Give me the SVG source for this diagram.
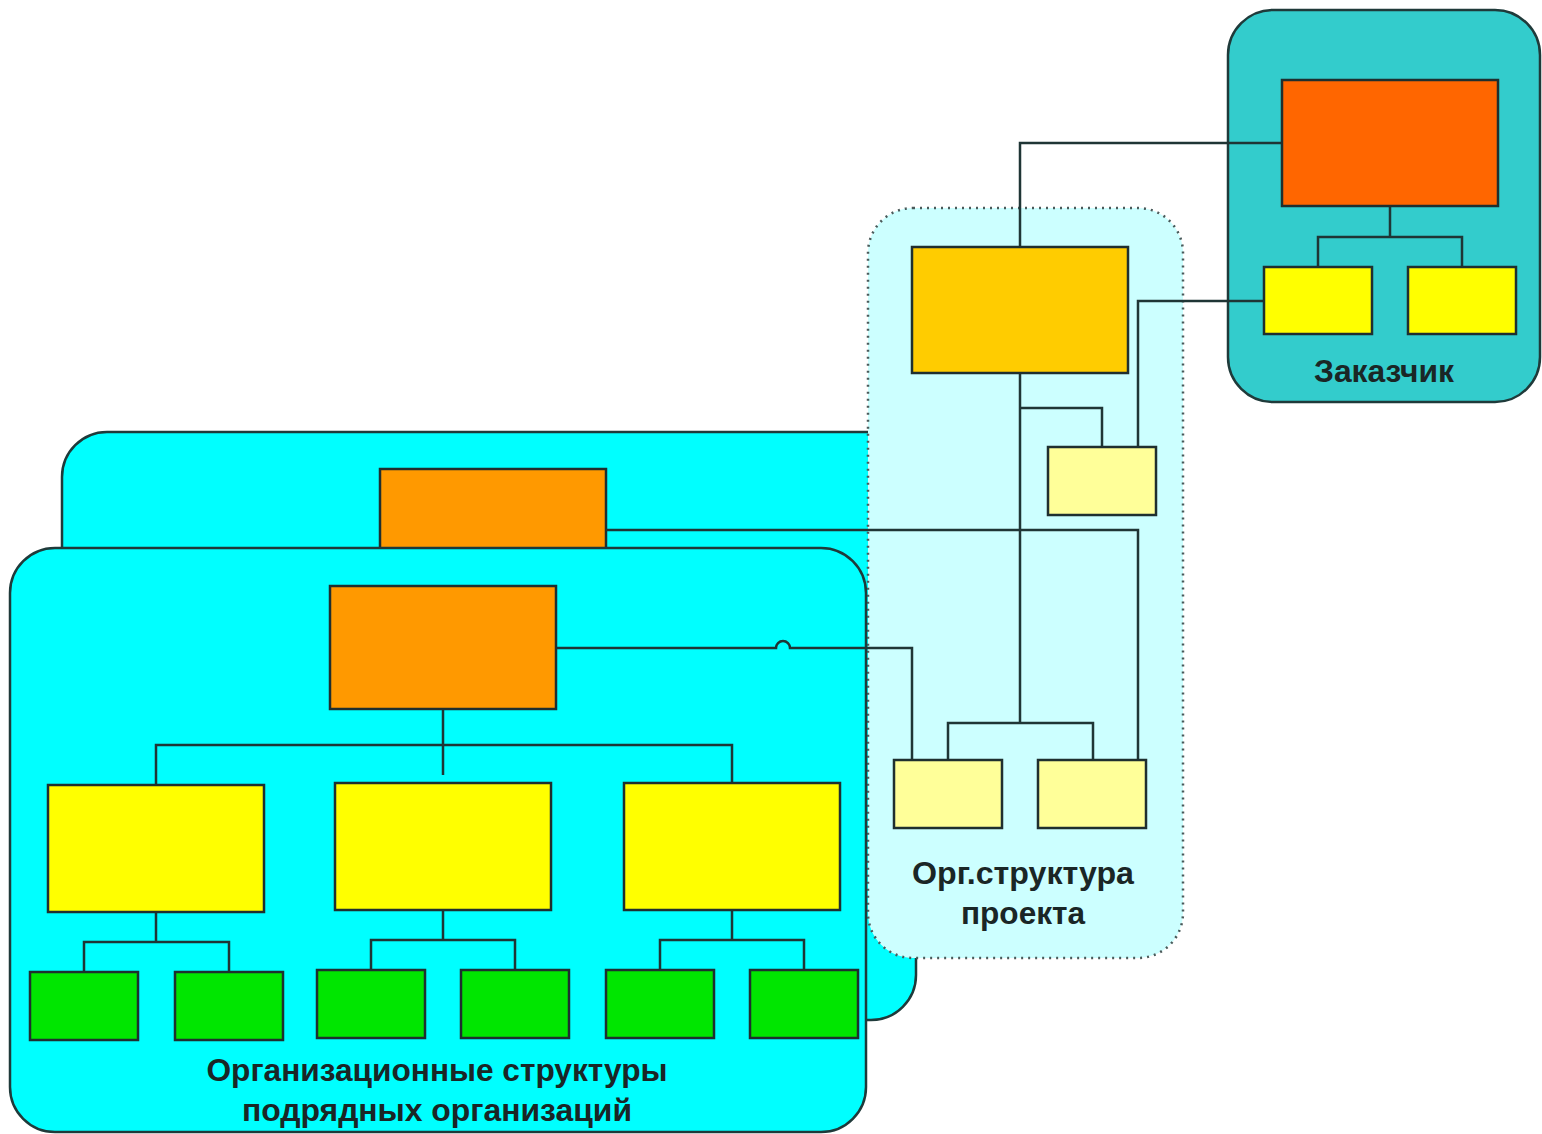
<svg xmlns="http://www.w3.org/2000/svg" width="1542" height="1134" viewBox="0 0 1542 1134">
<style>
.box{stroke:#1f2f2f;stroke-width:2.5}
.panel{stroke:#1f3a3a;stroke-width:2.5}
.ln{fill:none;stroke:#1f3535;stroke-width:2.5}
.lbl{font-family:"Liberation Sans",Arial,sans-serif;font-weight:bold;font-size:31px;fill:#1a2626;text-anchor:middle}
</style>
<rect width="1542" height="1134" fill="#ffffff"/>
<g id="panel-back">
<rect class="panel" x="62" y="432" width="854" height="588" rx="45" fill="#00ffff"/>
<rect id="back-top" class="box" x="380" y="469" width="226" height="100" fill="#ff9900"/>
</g>
<g id="panel-project">
<rect x="868" y="208" width="315" height="750" rx="45" fill="#ccffff" stroke="#4a5a5a" stroke-width="2.5" stroke-dasharray="2,5"/>
</g>
<g id="panel-front">
<rect class="panel" x="10" y="548" width="856" height="584" rx="45" fill="#00ffff"/>
</g>
<g id="panel-customer">
<rect class="panel" x="1228" y="10" width="312" height="392" rx="45" fill="#33cccc"/>
</g>
<g id="connectors">
<path class="ln" d="M1390,206 V237 M1318,267 V237 H1462 V267"/>
<path class="ln" d="M1282,143 H1020 V247"/>
<path class="ln" d="M1264,301 H1138 V447"/>
<path class="ln" d="M1020,373 V723 M1020,408 H1102 V447"/>
<path class="ln" d="M948,760 V723 H1093 V760"/>
<path class="ln" d="M606,530 H1138 V760"/>
<path class="ln" d="M556,648 H776 A7,7 0 0 1 790,648 H912 V760"/>
<path class="ln" d="M443,709 V775 M156,785 V745 H732 V783"/>
<path class="ln" d="M156,912 V942 M84,972 V942 H229 V972"/>
<path class="ln" d="M443,910 V940 M371,970 V940 H515 V970"/>
<path class="ln" d="M732,910 V940 M660,970 V940 H804 V970"/>
</g>
<g id="customer-head"><rect class="box" x="1282" y="80" width="216" height="126" fill="#ff6600"/></g>
<g id="customer-a"><rect class="box" x="1264" y="267" width="108" height="67" fill="#ffff00"/></g>
<g id="customer-b"><rect class="box" x="1408" y="267" width="108" height="67" fill="#ffff00"/></g>
<g id="customer-label"><text class="lbl" x="1384" y="382" textLength="140" lengthAdjust="spacingAndGlyphs">Заказчик</text></g>
<g id="project-head"><rect class="box" x="912" y="247" width="216" height="126" fill="#ffcc00"/></g>
<g id="project-mid"><rect class="box" x="1048" y="447" width="108" height="68" fill="#ffff99"/></g>
<g id="project-a"><rect class="box" x="894" y="760" width="108" height="68" fill="#ffff99"/></g>
<g id="project-b"><rect class="box" x="1038" y="760" width="108" height="68" fill="#ffff99"/></g>
<g id="project-label"><text class="lbl" x="1023" y="884" textLength="222" lengthAdjust="spacingAndGlyphs">Орг.структура</text><text class="lbl" x="1023" y="924" textLength="124" lengthAdjust="spacingAndGlyphs">проекта</text></g>
<g id="front-head"><rect class="box" x="330" y="586" width="226" height="123" fill="#ff9900"/></g>
<g id="front-y1"><rect class="box" x="48" y="785" width="216" height="127" fill="#ffff00"/></g>
<g id="front-y2"><rect class="box" x="335" y="783" width="216" height="127" fill="#ffff00"/></g>
<g id="front-y3"><rect class="box" x="624" y="783" width="216" height="127" fill="#ffff00"/></g>
<g id="front-g1"><rect class="box" x="30" y="972" width="108" height="68" fill="#00e600"/></g>
<g id="front-g2"><rect class="box" x="175" y="972" width="108" height="68" fill="#00e600"/></g>
<g id="front-g3"><rect class="box" x="317" y="970" width="108" height="68" fill="#00e600"/></g>
<g id="front-g4"><rect class="box" x="461" y="970" width="108" height="68" fill="#00e600"/></g>
<g id="front-g5"><rect class="box" x="606" y="970" width="108" height="68" fill="#00e600"/></g>
<g id="front-g6"><rect class="box" x="750" y="970" width="108" height="68" fill="#00e600"/></g>
<g id="front-label"><text class="lbl" x="437" y="1081" textLength="461" lengthAdjust="spacingAndGlyphs">Организационные структуры</text><text class="lbl" x="437" y="1121" textLength="390" lengthAdjust="spacingAndGlyphs">подрядных организаций</text></g>
</svg>
